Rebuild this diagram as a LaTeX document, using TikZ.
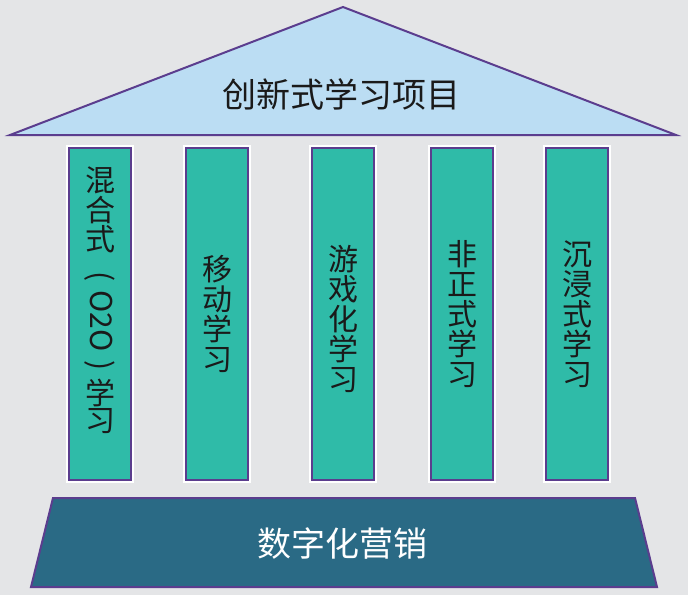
\documentclass[tikz,border=0pt]{standalone}
\usepackage{fontspec}
\setmainfont{Noto Sans CJK SC}
\usepackage{graphicx}
\definecolor{bgGrey}{HTML}{E4E5E7}
\definecolor{roofBlue}{HTML}{BBDDF3}
\definecolor{pillarTeal}{HTML}{2FBBA8}
\definecolor{baseBlue}{HTML}{2A6A85}
\definecolor{edgePurple}{HTML}{5B3D8E}
\definecolor{inkBlack}{HTML}{1A1A1A}

\begin{document}
\begin{tikzpicture}[x=0.5pt,y=-0.5pt,
    roof/.style={fill=roofBlue,draw=edgePurple,line width=1pt,line join=miter},
    pillar/.style={preaction={draw=white,line width=2.6pt},fill=pillarTeal,draw=edgePurple,
        line width=0.9pt,minimum width=31pt,minimum height=166pt,inner sep=0pt},
    pillartext/.style={text=inkBlack,align=center,inner sep=0pt,font=\fontsize{15}{15}\selectfont},
    plinth/.style={fill=baseBlue,draw=edgePurple,line width=1pt},
    bigtext/.style={font=\fontsize{17}{20}\selectfont,inner sep=0pt}]

    % background
    \fill[bgGrey] (0,0) rectangle (688,595);
    \useasboundingbox (0,0) rectangle (688,595);

    % roof
    \draw[roof] (10,135) -- (343,7) -- (676,135) -- cycle;
    \node[bigtext,text=inkBlack] (roofText) at (341,94) {创新式学习项目};

    % pillars
    \node[pillar] (p1) at (100,314) {};
    \node[pillar] (p2) at (217,314) {};
    \node[pillar] (p3) at (343,314) {};
    \node[pillar] (p4) at (462,314) {};
    \node[pillar] (p5) at (577,314) {};

    \node[pillartext,font=\fontsize{15}{13.5}\selectfont] (t1) at (100,300)
        {混\\合\\式\\\rotatebox[origin=c]{-90}{\hspace{0.55em}(\hspace{0.3em}O2O\hspace{0.3em})\hspace{0.2em}}\\学\\习};
    \node[pillartext] (t2) at (p2.center) {移\\动\\学\\习};
    \node[pillartext] (t3) at (343,319) {游\\戏\\化\\学\\习};
    \node[pillartext] (t4) at (p4.center) {非\\正\\式\\学\\习};
    \node[pillartext] (t5) at (p5.center) {沉\\浸\\式\\学\\习};

    % base
    \draw[plinth] (53,498) -- (635,498) -- (657,587) -- (31,587) -- cycle;
    \node[bigtext,text=white] (baseText) at (342,543) {数字化营销};
\end{tikzpicture}
\end{document}
